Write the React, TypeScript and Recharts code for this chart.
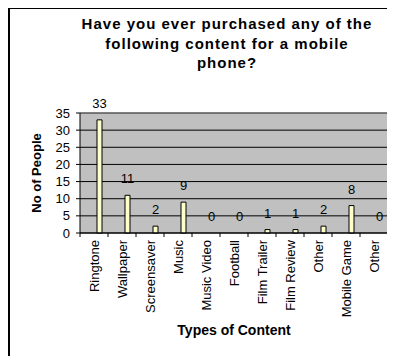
import React from 'react';
import { BarChart, Bar, XAxis, YAxis, CartesianGrid, LabelList, Rectangle } from 'recharts';

const categories = [
  'Ringtone',
  'Wallpaper',
  'Screensaver',
  'Music',
  'Music Video',
  'Football',
  'Film Trailer',
  'Film Review',
  'Other',
  'Mobile Game',
  'Other',
];
const peopleCounts = [33, 11, 2, 9, 0, 0, 1, 1, 2, 8, 0];
const yTicks = [0, 5, 10, 15, 20, 25, 30, 35];
const titleLines = ['Have you ever purchased any of the', 'following content for a mobile', 'phone?'];

const FONT = '"Liberation Sans", Arial, sans-serif';
// Excel draws the bars a little right of the band centre
const BAR_SHIFT = 5;

const data = categories.map((name, i) => ({ name, value: peopleCounts[i] }));

// category ticks: rotated label, tick marks on the band edges
const CategoryTick = (props: any) => {
  const { x, y, payload } = props;
  const half = payload.offset ?? 14;
  const isLast = payload.index === categories.length - 1;
  return (
    <g>
      <line x1={x - half} y1={y} x2={x - half} y2={y + 4} stroke="#000" />
      {isLast && <line x1={x + half} y1={y} x2={x + half} y2={y + 4} stroke="#000" />}
      <text
        x={x}
        y={y + 7}
        transform={`rotate(-90 ${x} ${y + 7})`}
        textAnchor="end"
        dy="0.35em"
        fontSize={13}
        fontFamily={FONT}
        fill="#000"
      >
        {payload.value}
      </text>
    </g>
  );
};

const ShiftedBar = (props: any) => <Rectangle {...props} x={props.x + BAR_SHIFT} />;

const BarValue = (props: any) => {
  const { x, y, width, value } = props;
  return (
    <text
      x={x + width / 2 + BAR_SHIFT}
      y={y - 12}
      textAnchor="middle"
      fontSize={13}
      fontFamily={FONT}
      fill="#000"
    >
      {value}
    </text>
  );
};

export default function App() {
  return (
    <div style={{ position: 'relative', width: 387, height: 348, overflow: 'hidden', fontFamily: FONT }}>
      {/* chart frame, wider than the crop */}
      <div
        style={{
          position: 'absolute',
          left: 0,
          top: 0,
          width: 440,
          height: 400,
          borderTop: '1px solid #000',
          borderLeft: '2px solid #000',
        }}
      />
      <div
        style={{
          position: 'absolute',
          left: 0,
          top: 6,
          width: 438,
          textAlign: 'center',
          fontWeight: 'bold',
          fontSize: 15,
          lineHeight: '19.5px',
          letterSpacing: 1,
        }}
      >
        {titleLines.map((l, i) => (
          <div key={i}>{l}</div>
        ))}
      </div>
      <div style={{ position: 'absolute', left: 0, top: 0 }}>
        <BarChart width={387} height={348} data={data} margin={{ top: 105, right: 7, left: 0, bottom: 0 }}>
          <CartesianGrid fill="#C0C0C0" stroke="#000" vertical={false} />
          <CartesianGrid
            fill="none"
            stroke="#808080"
            horizontalCoordinatesGenerator={({ offset }: any) => [offset.top]}
            verticalCoordinatesGenerator={({ offset }: any) => [offset.left + offset.width]}
          />
          <XAxis
            dataKey="name"
            interval={0}
            height={123}
            stroke="#000"
            tickLine={false}
            tickSize={0}
            tickMargin={0}
            tick={<CategoryTick />}
            label={{
              value: 'Types of Content',
              position: 'insideBottom',
              offset: 21,
              fill: '#000',
              fontSize: 14,
              fontWeight: 'bold',
              fontFamily: FONT,
            }}
          />
          <YAxis
            width={72}
            domain={[0, 35]}
            ticks={yTicks}
            interval={0}
            stroke="#000"
            tickSize={4}
            tickMargin={6}
            tick={{ fill: '#000', fontSize: 13, fontFamily: FONT }}
            label={{
              value: 'No of People',
              angle: -90,
              position: 'insideLeft',
              offset: 28,
              fill: '#000',
              fontSize: 13,
              fontWeight: 'bold',
              fontFamily: FONT,
              style: { textAnchor: 'middle' },
            }}
          />
          <Bar
            dataKey="value"
            barSize={5}
            fill="#FFFFCC"
            stroke="#000"
            strokeWidth={1}
            shape={<ShiftedBar />}
            isAnimationActive={false}
          >
            <LabelList dataKey="value" content={<BarValue />} />
          </Bar>
        </BarChart>
      </div>
    </div>
  );
}
